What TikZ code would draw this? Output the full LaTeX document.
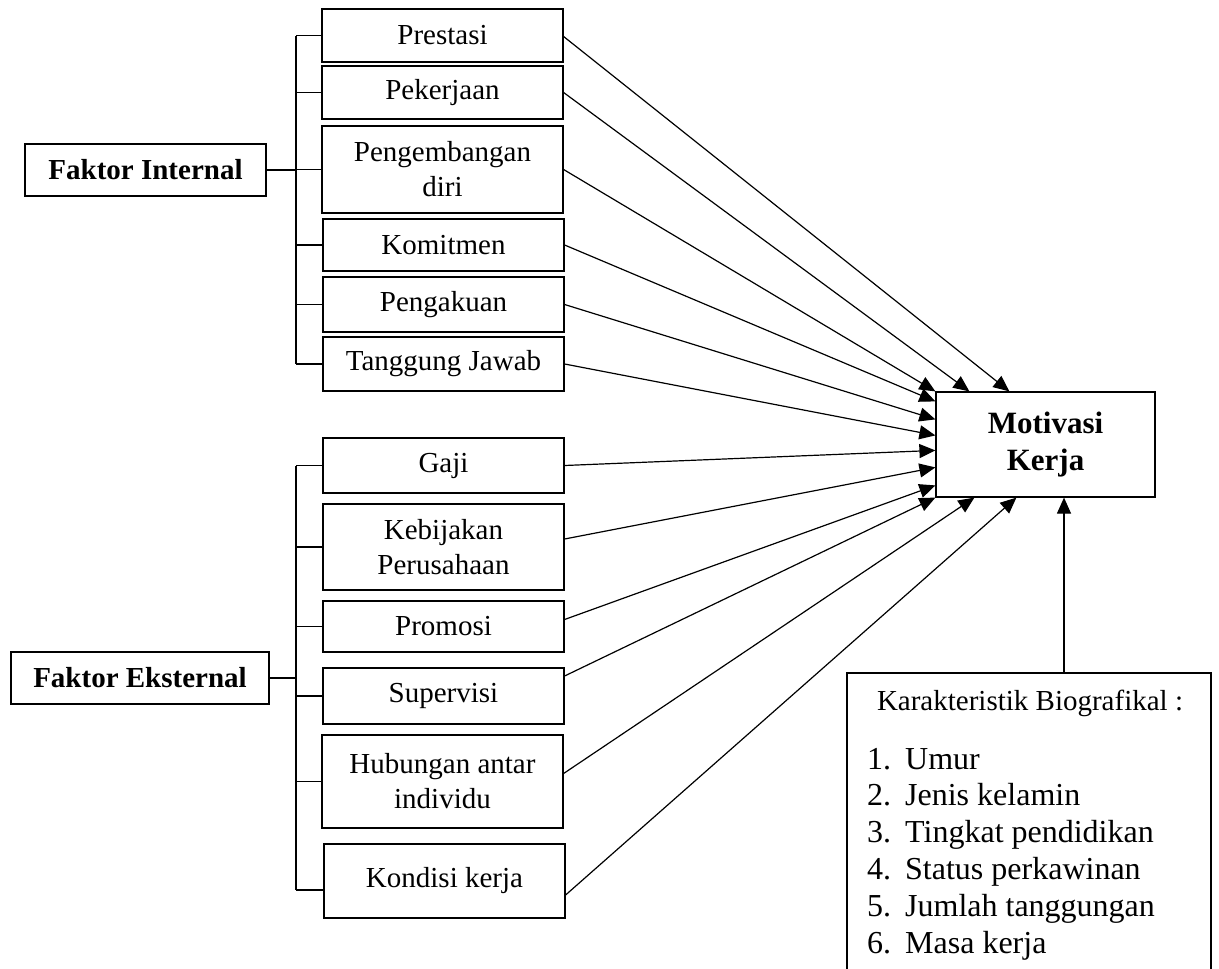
\documentclass[tikz,border=0pt]{standalone}
\usepackage{fontspec}
\setmainfont{Liberation Serif}
\usetikzlibrary{arrows.meta}

\begin{document}
\begin{tikzpicture}[x=1pt,y=-1pt,
    kotak/.style={draw,line width=1.2pt,minimum width=241pt,inner sep=0pt,align=center,font=\fontsize{29}{35}\selectfont},
    faktor/.style={draw,line width=1.2pt,minimum height=52pt,inner sep=0pt,font=\fontsize{29}{35}\selectfont\bfseries},
    garis/.style={line width=1.2pt},
    panah/.style={line width=1.2pt,-{Triangle[length=16pt,width=14pt]}}]
  \useasboundingbox (0,0) rectangle (1219,969);
  % faktor internal
  \node[faktor,minimum width=241pt] (fint) at (145.5,170) {Faktor Internal};
  \node[kotak,minimum height=53pt] (pres) at (442.5,35.5) {Prestasi};
  \node[kotak,minimum height=53pt] (peke) at (442.5,92.5) {Pekerjaan};
  \node[kotak,minimum height=87pt] (peng) at (442.5,169.5) {Pengembangan\\diri};
  \node[kotak,minimum height=52pt] (komi) at (443.5,245) {Komitmen};
  \node[kotak,minimum height=55pt] (pgak) at (443.5,304.5) {Pengakuan};
  \node[kotak,minimum height=54pt] (tang) at (443.5,364) {Tanggung Jawab};
  % faktor eksternal
  \node[faktor,minimum width=258pt] (feks) at (140,678) {Faktor Eksternal};
  \node[kotak,minimum height=55pt] (gaji) at (443.5,465.5) {Gaji};
  \node[kotak,minimum height=86pt] (kebi) at (443.5,547) {Kebijakan\\Perusahaan};
  \node[kotak,minimum height=51pt] (prom) at (443.5,626.5) {Promosi};
  \node[kotak,minimum height=56pt] (supe) at (443.5,696) {Supervisi};
  \node[kotak,minimum height=93pt] (hubu) at (442.5,781.5) {Hubungan antar\\individu};
  \node[kotak,minimum height=74pt] (kond) at (444.5,881) {Kondisi kerja};
  % motivasi dan karakteristik
  \node[draw,line width=1.2pt,minimum width=219pt,minimum height=105pt,align=center,
    font=\fontsize{31}{37}\selectfont\bfseries] (mot) at (1045.5,444.5) {Motivasi\\Kerja};
  \node[draw,line width=1.2pt,minimum width=364pt,minimum height=320pt,inner sep=0pt] (bio) at (1029,833) {};
  \node[anchor=base,inner sep=0pt,font=\fontsize{29}{35}\selectfont] (biocap) at (1030,710) {Karakteristik Biografikal :};
  \foreach \isi [count=\i] in {Umur,Jenis kelamin,Tingkat pendidikan,Status perkawinan,Jumlah tanggungan,Masa kerja}
    \node[anchor=base west,inner sep=0pt,font=\fontsize{32}{37}\selectfont] (item\i) at (867,{769+36.8*(\i-1)}) {\makebox[38pt][l]{\i.}\isi};

  % kurung kiri
  \coordinate (tulangA) at (296,170);
  \draw[garis] (fint.east) -- (tulangA);
  \draw[garis] (tulangA |- pres.west) -- (tulangA |- tang.west);
  \foreach \n in {pres,peke,peng,komi,pgak,tang}
    \draw[garis] (tulangA |- \n.west) -- (\n.west);
  \coordinate (tulangB) at (296,678);
  \coordinate (kondkiri) at ([yshift=-9pt]kond.west);
  \draw[garis] (feks.east) -- (tulangB);
  \draw[garis] (tulangB |- gaji.west) -- (tulangB |- kondkiri);
  \foreach \n in {gaji,kebi,prom,supe,hubu}
    \draw[garis] (tulangB |- \n.west) -- (\n.west);
  \draw[garis] (tulangB |- kondkiri) -- (kondkiri);

  % panah ke motivasi
  \draw[panah] ([yshift=-1pt]pres.east) -- ([xshift=74pt]mot.north west);
  \draw[panah] (peke.east) -- ([xshift=34pt]mot.north west);
  \draw[panah] (peng.east) -- (mot.north west);
  \draw[panah] (komi.east) -- ([yshift=-10pt]mot.north west);
  \draw[panah] (pgak.east) -- ([yshift=-28pt]mot.north west);
  \draw[panah] (tang.east) -- ([yshift=-44pt]mot.north west);
  \draw[panah] (gaji.east) -- ([yshift=-59pt]mot.north west);
  \draw[panah] ([yshift=8pt]kebi.east) -- ([yshift=-76pt]mot.north west);
  \draw[panah] ([yshift=7pt]prom.east) -- ([yshift=-94pt]mot.north west);
  \draw[panah] ([yshift=20pt]supe.east) -- (mot.south west);
  \draw[panah] ([yshift=8pt]hubu.east) -- ([xshift=39pt]mot.south west);
  \draw[panah] ([yshift=-14pt]kond.east) -- ([xshift=81pt]mot.south west);
  \draw[panah] ([xshift=35pt]bio.north) -- ([xshift=35pt]bio.north |- mot.south);
\end{tikzpicture}
\end{document}
